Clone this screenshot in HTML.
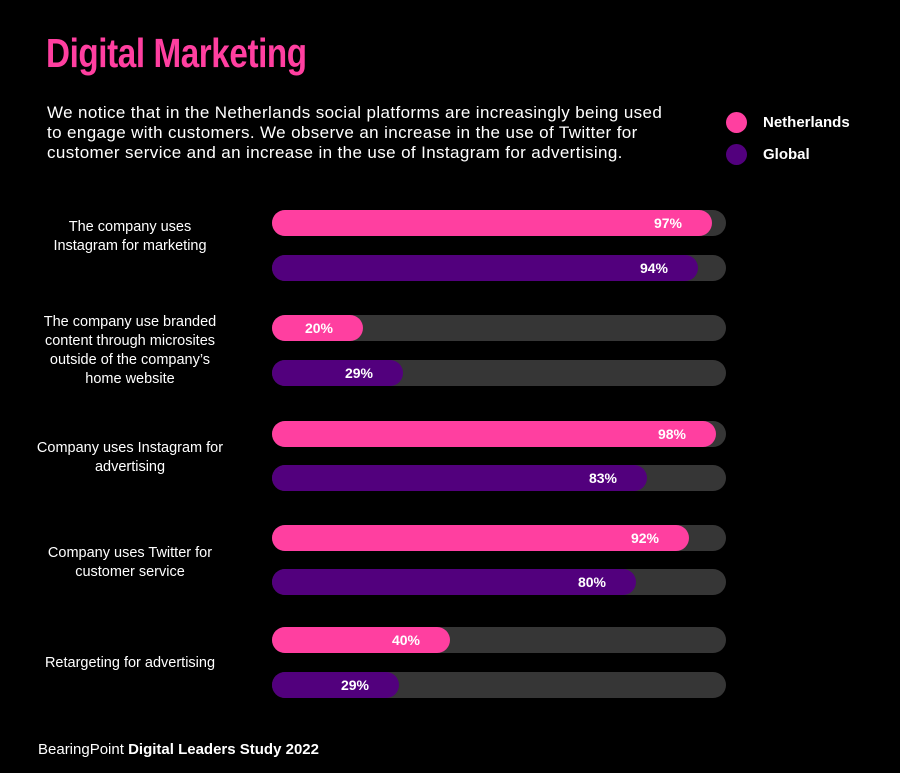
<!DOCTYPE html>
<html><head><meta charset="utf-8"><style>
body{margin:0;background:#000;width:900px;height:773px;overflow:hidden;font-family:"Liberation Sans",sans-serif;color:#fff;position:relative}
.a{position:absolute}
h1{position:absolute;left:46px;top:30px;margin:0;font-family:"Liberation Sans",sans-serif;font-weight:bold;font-size:41px;color:#ff3fa0;letter-spacing:-0.5px;transform:scaleX(0.81);transform-origin:0 0;white-space:nowrap}
.p{left:47px;top:103px;font-size:17px;line-height:20px;width:660px;letter-spacing:0.38px;white-space:nowrap}
.dot{width:21px;height:21px;border-radius:50%}
.lg{font-size:15px;font-weight:bold}
.lab{left:20px;width:220px;text-align:center;font-size:14.5px;line-height:19px}
.tr{left:272px;width:454px;height:26px;border-radius:13px;background:#363636}
.f{position:absolute;left:0;top:0;height:26px;border-radius:13px;box-sizing:border-box;padding-right:30px;text-align:right;font-weight:bold;font-size:14px;line-height:26px}
.pk{background:#ff3fa0}.pu{background:#52007d}
</style></head><body>
<h1>Digital Marketing</h1>
<div class="a p">We notice that in the Netherlands social platforms are increasingly being used<br>to engage with customers. We observe an increase in the use of Twitter for<br>customer service and an increase in the use of Instagram for advertising.</div>
<div class="a dot" style="left:726px;top:112px;background:#ff3fa0"></div>
<div class="a lg" style="left:763px;top:114px">Netherlands</div>
<div class="a dot" style="left:726px;top:144px;background:#52007d"></div>
<div class="a lg" style="left:763px;top:146px">Global</div>

<div class="a lab" style="top:218px">The company uses<br>Instagram for marketing</div>
<div class="a lab" style="top:313px">The company use branded<br>content through microsites<br>outside of the company’s<br>home website</div>
<div class="a lab" style="top:439px">Company uses Instagram for<br>advertising</div>
<div class="a lab" style="top:544px">Company uses Twitter for<br>customer service</div>
<div class="a lab" style="top:654px">Retargeting for advertising</div>

<div class="a tr" style="top:210px"><div class="f pk" style="width:440px">97%</div></div>
<div class="a tr" style="top:255px"><div class="f pu" style="width:426px">94%</div></div>
<div class="a tr" style="top:315px"><div class="f pk" style="width:91px">20%</div></div>
<div class="a tr" style="top:360px"><div class="f pu" style="width:131px">29%</div></div>
<div class="a tr" style="top:421px"><div class="f pk" style="width:444px">98%</div></div>
<div class="a tr" style="top:465px"><div class="f pu" style="width:375px">83%</div></div>
<div class="a tr" style="top:525px"><div class="f pk" style="width:417px">92%</div></div>
<div class="a tr" style="top:569px"><div class="f pu" style="width:364px">80%</div></div>
<div class="a tr" style="top:627px"><div class="f pk" style="width:178px">40%</div></div>
<div class="a tr" style="top:672px"><div class="f pu" style="width:127px">29%</div></div>

<div class="a" style="left:38px;top:741px;font-size:15px">BearingPoint <b>Digital Leaders Study 2022</b></div>
</body></html>
